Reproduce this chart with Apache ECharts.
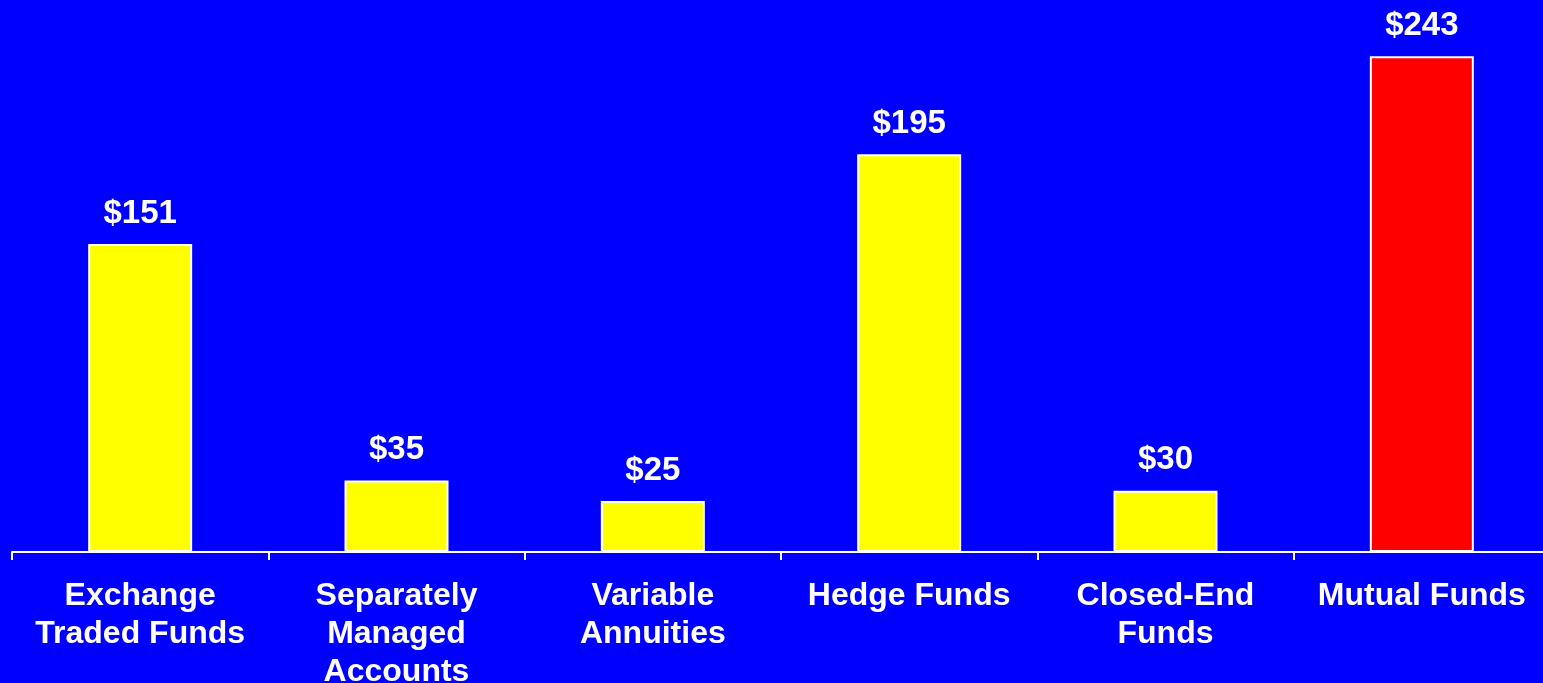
<!DOCTYPE html>
<html>
<head>
<meta charset="utf-8">
<script src="https://cdn.jsdelivr.net/npm/echarts@6/dist/echarts.min.js"></script>
<style>
  html, body { margin: 0; padding: 0; background: #0000FF; }
  #chart { width: 1543px; height: 683px; }
</style>
</head>
<body>
<div id="chart"></div>
<script>
// Asset totals by product type ($ billions)
const categories = [
  'Exchange\nTraded Funds',
  'Separately\nManaged\nAccounts',
  'Variable\nAnnuities',
  'Hedge Funds',
  'Closed-End\nFunds',
  'Mutual Funds'
];
const values = [151, 35, 25, 195, 30, 243];
const barColors = ['#FFFF00', '#FFFF00', '#FFFF00', '#FFFF00', '#FFFF00', '#FF0000'];

const chart = echarts.init(document.getElementById('chart'));
chart.setOption({
  backgroundColor: '#0000FF',
  animation: false,
  grid: {
    left: 12, width: 1538, top: 42, bottom: 131,
    containLabel: false,
    outerBoundsMode: 'none'
  },
  xAxis: {
    type: 'category',
    data: categories,
    axisLine: { show: true, lineStyle: { color: '#FFFFFF', width: 2 } },
    axisTick: { show: true, length: 8, lineStyle: { color: '#FFFFFF', width: 2 } },
    axisLabel: {
      color: '#FFFFFF',
      fontFamily: 'Liberation Sans, Arial, sans-serif',
      fontWeight: 'bold',
      fontSize: 32,
      lineHeight: 38,
      margin: 25,
      interval: 0,
      hideOverlap: false
    }
  },
  yAxis: {
    type: 'value',
    min: 0,
    max: 250,
    show: false,
    splitLine: { show: false }
  },
  series: [{
    type: 'bar',
    barWidth: 104,
    data: values.map((v, i) => ({
      value: v,
      itemStyle: { color: barColors[i], borderColor: '#FFFFFF', borderWidth: 2 }
    })),
    label: {
      show: true,
      position: 'top',
      distance: 14,
      color: '#FFFFFF',
      fontFamily: 'Liberation Sans, Arial, sans-serif',
      fontWeight: 'bold',
      fontSize: 33,
      formatter: p => '$' + p.value
    }
  }]
});
</script>
</body>
</html>
